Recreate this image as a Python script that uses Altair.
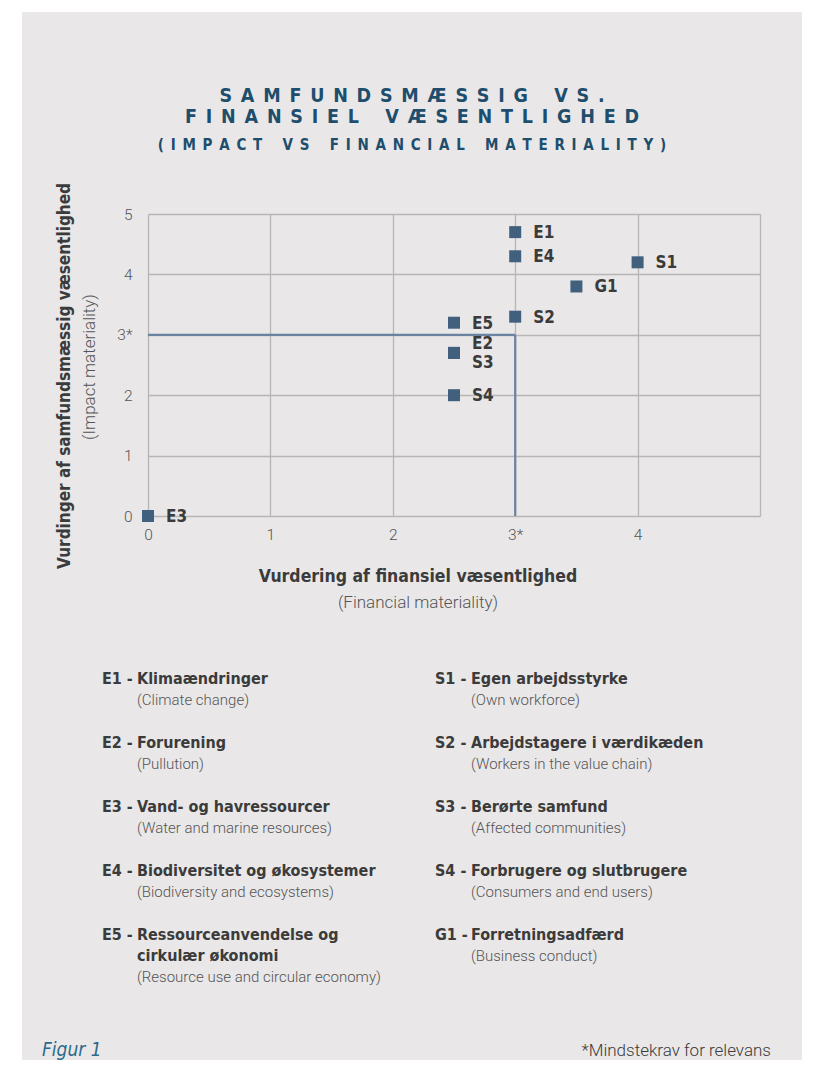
import altair as alt
import pandas as pd

# ---------------- data ----------------
codes = ["E1", "E2", "E3", "E4", "E5", "S1", "S2", "S3", "S4", "G1"]
financial = [3.0, 2.5, 0.0, 3.0, 2.5, 4.0, 3.0, 2.5, 2.5, 3.5]
impact = [4.7, 2.7, 0.0, 4.3, 3.2, 4.2, 3.3, 2.7, 2.0, 3.8]
names_da = [
    "Klimaændringer",
    "Forurening",
    "Vand- og havressourcer",
    "Biodiversitet og økosystemer",
    "Ressourceanvendelse og\ncirkulær økonomi",
    "Egen arbejdsstyrke",
    "Arbejdstagere i værdikæden",
    "Berørte samfund",
    "Forbrugere og slutbrugere",
    "Forretningsadfærd",
]
names_en = [
    "(Climate change)",
    "(Pullution)",
    "(Water and marine resources)",
    "(Biodiversity and ecosystems)",
    "(Resource use and circular economy)",
    "(Own workforce)",
    "(Workers in the value chain)",
    "(Affected communities)",
    "(Consumers and end users)",
    "(Business conduct)",
]
axis_ticks = [0, 1, 2, 3, 4, 5]
threshold = 3

title_lines = ["SAMFUNDSMÆSSIG VS.", "FINANSIEL VÆSENTLIGHED"]
subtitle_line = "(IMPACT VS FINANCIAL MATERIALITY)"
x_title = "Vurdering af finansiel væsentlighed"
x_sub = "(Financial materiality)"
y_title = "Vurdinger af samfundsmæssig væsentlighed"
y_sub = "(Impact materiality)"
fig_label = "Figur 1"
footnote = "*Mindstekrav for relevans"

# ---------------- style ----------------
FONT = "Liberation Sans Narrow, DejaVu Sans Condensed, Roboto, sans-serif"
LIGHT = "Roboto, Liberation Sans Narrow, sans-serif"
PANEL = "#e9e7e8"
DARK = "#3b3b3b"
GREY = "#555555"
BLUE = "#41607e"
LINE = "#6a83a0"
TITLE = "#1e4e6c"

W, H = 612, 302
PAD = {"left": 140, "top": 206, "right": 48, "bottom": 544}
LABEL_LH = 19


def spaced(s, gap="\u2002", word_gap="\u2002\u2002\u2002"):
    return word_gap.join(gap.join(list(w)) for w in s.split(" "))


def text_layer(t, x, y, **kw):
    return alt.Chart(pd.DataFrame({"t": [t]})).mark_text(**kw).encode(
        text="t:N", x=alt.value(x), y=alt.value(y)
    )


def rect_layer(x, x2, y, y2, color):
    return alt.Chart(pd.DataFrame({"a": [0]})).mark_rect(color=color).encode(
        x=alt.value(x), x2=alt.value(x2), y=alt.value(y), y2=alt.value(y2)
    )


pts = pd.DataFrame({"code": codes, "financial": financial, "impact": impact})
lab = (
    pts.groupby(["financial", "impact"], sort=False)["code"]
    .apply(lambda s: "\n".join(s))
    .reset_index()
    .rename(columns={"code": "label"})
)
lab["n"] = lab["label"].str.count("\n") + 1

xs = alt.Scale(domain=[0, 5], nice=False, zero=False)
ys = alt.Scale(domain=[0, 5], nice=False, zero=False)

axis_common = dict(
    values=axis_ticks,
    format="d",
    grid=True,
    gridColor="#b7b5b5",
    gridWidth=1.3,
    domain=False,
    ticks=False,
    title=None,
    labelFlush=False,
    labelFont=LIGHT,
    labelFontWeight=300,
    labelFontSize=15.5,
    labelColor=GREY,
)

x_axis = alt.Axis(
    labelExpr="datum.value == 3 ? '3*' : (datum.value == 5 ? '' : datum.label)",
    labelPadding=11,
    **axis_common,
)
y_axis = alt.Axis(
    labelExpr="datum.value == 3 ? '3*' : datum.label",
    labelPadding=16,
    **axis_common,
)

# threshold lines
thr = pd.DataFrame(
    {"x": [0, threshold], "x2": [threshold, threshold], "y": [threshold, 0], "y2": [threshold, threshold]}
)
rules = alt.Chart(thr).mark_rule(color=LINE, strokeWidth=2.2).encode(
    x=alt.X("x:Q", scale=xs, axis=x_axis),
    x2="x2:Q",
    y=alt.Y("y:Q", scale=ys, axis=y_axis),
    y2="y2:Q",
)

squares = alt.Chart(pts).mark_square(size=144, color=BLUE, opacity=1).encode(
    x=alt.X("financial:Q", scale=xs),
    y=alt.Y("impact:Q", scale=ys),
)

label_layers = []
for n in sorted(lab["n"].unique()):
    sub = lab[lab["n"] == n]
    label_layers.append(
        alt.Chart(sub).mark_text(
            align="left", baseline="middle", dx=18, dy=-(n - 1) * LABEL_LH / 2 + 1,
            font=FONT, fontWeight="bold", fontSize=17, color=DARK,
            lineBreak="\n", lineHeight=LABEL_LH,
        ).encode(
            x=alt.X("financial:Q", scale=xs),
            y=alt.Y("impact:Q", scale=ys),
            text="label:N",
        )
    )

layers = []
# white margins around the grey panel
layers.append(rect_layer(-140, -126, -206, 846, "white"))
layers.append(rect_layer(654, 660, -206, 846, "white"))
layers.append(rect_layer(-140, 660, -206, -202, "white"))

layers += [rules, squares] + label_layers

# titles
cx = 264
layers.append(text_layer(spaced(title_lines[0]), cx, -118, font=FONT, fontWeight="bold",
                         fontSize=19.5, color=TITLE, align="center", baseline="middle"))
layers.append(text_layer(spaced(title_lines[1]), cx, -97, font=FONT, fontWeight="bold",
                         fontSize=19.5, color=TITLE, align="center", baseline="middle"))
layers.append(text_layer(spaced(subtitle_line), cx, -69, font=FONT, fontWeight="bold",
                         fontSize=15, color=TITLE, align="center", baseline="middle"))

# axis titles
layers.append(text_layer(x_title, 270, 363, font=FONT, fontWeight="bold", fontSize=17.5,
                         color=DARK, align="center", baseline="middle"))
layers.append(text_layer(x_sub, 270, 389, font=LIGHT, fontWeight=300, fontSize=17,
                         color=GREY, align="center", baseline="middle"))
layers.append(text_layer(y_title, -83, 162, font=FONT, fontWeight="bold", fontSize=17,
                         color=DARK, align="center", baseline="middle", angle=270))
layers.append(text_layer(y_sub, -58, 153, font=LIGHT, fontWeight=300, fontSize=17,
                         color=GREY, align="center", baseline="middle", angle=270))

# legend
row0, row_step = 464, 64
col_code_x = [-46, 287]
col_name_x = [-11, 323]
for i, (c, da, en) in enumerate(zip(codes, names_da, names_en)):
    col = 0 if c.startswith("E") else 1
    row = i if col == 0 else i - 5
    yc = row0 + row_step * row
    nlines = da.count("\n") + 1
    layers.append(text_layer(c + " -", col_code_x[col], yc + 6, font=FONT, fontWeight="bold",
                             fontSize=16, color=DARK, align="left", baseline="alphabetic"))
    layers.append(text_layer(da, col_name_x[col], yc + 6, font=FONT, fontWeight="bold",
                             fontSize=16, color=DARK, align="left", baseline="alphabetic",
                             lineBreak="\n", lineHeight=21))
    layers.append(text_layer(en, col_name_x[col], yc + 22 + 21 * (nlines - 1), font=LIGHT,
                             fontWeight=300, fontSize=15, color=GREY, align="left",
                             baseline="middle"))

# footer
layers.append(text_layer(fig_label, -106, 836, font=FONT, fontStyle="italic", fontSize=19,
                         color="#2b6a8b", align="left", baseline="middle"))
layers.append(text_layer(footnote, 623, 837, font=LIGHT, fontWeight=300, fontSize=17,
                         color=DARK, align="right", baseline="middle"))

chart = (
    alt.layer(*layers)
    .properties(width=W, height=H, padding=PAD, autosize=alt.AutoSizeParams(type="none"),
                background=PANEL)
    .configure_view(stroke=None)
)

chart.save("out.html", embed_options={"renderer": "svg", "actions": False})
